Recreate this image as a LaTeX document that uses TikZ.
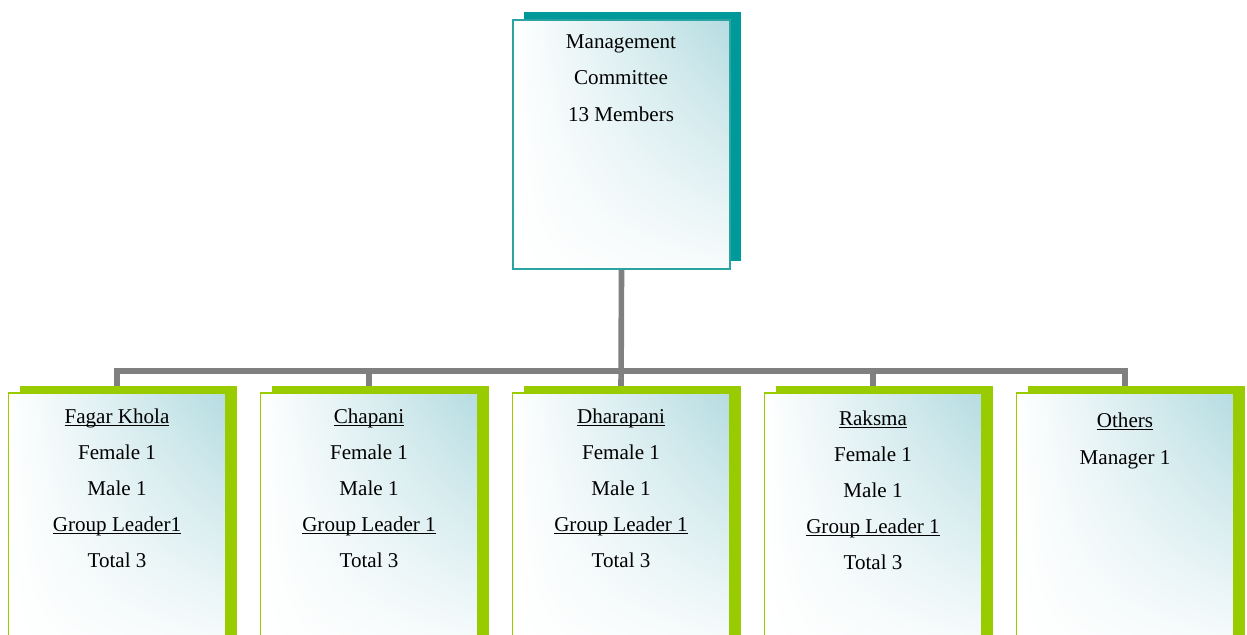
\documentclass[tikz,border=0pt]{standalone}
\usepackage{fontspec}
\setmainfont{Liberation Serif}
\usetikzlibrary{shadings,shadows}
\definecolor{teal1}{HTML}{009999}
\definecolor{tealline}{HTML}{2AA3A3}
\definecolor{lime1}{HTML}{99CC00}
\definecolor{glow}{HTML}{B5DCE1}
\definecolor{connc}{HTML}{808080}
\newcommand\myul[1]{\setbox0\hbox{#1}\rlap{\vrule height -1.2pt depth 1.8pt width \wd0}\box0}
\pgfdeclarelayer{bg}\pgfsetlayers{bg,main}
\tikzset{
  card/.style={inner sep=0pt, line width=0.8pt, minimum width=4.34cm,
    upper right=glow, upper left=white, lower left=white, lower right=white!90!glow},
  topcard/.style={card, draw=tealline, minimum height=4.98cm,
    general shadow={fill=teal1, shadow xshift=0.22cm, shadow yshift=0.16cm}},
  botcard/.style={card, draw=lime1, minimum height=5.04cm,
    general shadow={fill=lime1, shadow xshift=0.23cm, shadow yshift=0.14cm}},
  lbl/.style={anchor=base, inner sep=0pt, font=\fontsize{12}{14}\selectfont},
  connector/.style={draw=connc, line width=3.2pt, line join=miter, line cap=rect}
}
\begin{document}
\begin{tikzpicture}[x=0.02cm, y=-0.02cm]
\useasboundingbox (0,0) rectangle (1247,635);
% boxes
\node[topcard] (top) at (621.5,144.5) {};
\node[botcard] (b1) at (117,519) {};
\node[botcard] (b2) at (369,519) {};
\node[botcard] (b3) at (621,519) {};
\node[botcard] (b4) at (873,519) {};
\node[botcard] (b5) at (1125,519) {};
% connectors
\begin{pgfonlayer}{bg}
\coordinate (bus) at (621,371);
\draw[connector] (top.south) -- (b3.north);
\draw[connector] (b1.north) -- (b1.north |- bus) -- (b5.north |- bus) -- (b5.north);
\draw[connector] (b2.north) -- (b2.north |- bus);
\draw[connector] (b4.north) -- (b4.north |- bus);
\end{pgfonlayer}
% texts top
\node[lbl] (ta) at (621,49) {Management};
\node[lbl] (tb) at (621,85) {Committee};
\node[lbl] (tc) at (621,121) {13 Members};
% box 1
\node[lbl] (a1) at (117,423) {\myul{Fagar Khola}};
\node[lbl] (a2) at (117,459) {Female 1};
\node[lbl] (a3) at (117,495) {Male 1};
\node[lbl] (a4) at (117,531) {\myul{Group Leader1}};
\node[lbl] (a5) at (117,567) {Total 3};
% box 2
\node[lbl] (c1) at (369,423) {\myul{Chapani}};
\node[lbl] (c2) at (369,459) {Female 1};
\node[lbl] (c3) at (369,495) {Male 1};
\node[lbl] (c4) at (369,531) {\myul{Group Leader 1}};
\node[lbl] (c5) at (369,567) {Total 3};
% box 3
\node[lbl] (d1) at (621,423) {\myul{Dharapani}};
\node[lbl] (d2) at (621,459) {Female 1};
\node[lbl] (d3) at (621,495) {Male 1};
\node[lbl] (d4) at (621,531) {\myul{Group Leader 1}};
\node[lbl] (d5) at (621,567) {Total 3};
% box 4
\node[lbl] (e1) at (873,425) {\myul{Raksma}};
\node[lbl] (e2) at (873,461) {Female 1};
\node[lbl] (e3) at (873,497) {Male 1};
\node[lbl] (e4) at (873,533) {\myul{Group Leader 1}};
\node[lbl] (e5) at (873,569) {Total 3};
% box 5
\node[lbl] (f1) at (1125,427) {\myul{Others}};
\node[lbl] (f2) at (1125,464) {Manager 1};
\end{tikzpicture}
\end{document}
